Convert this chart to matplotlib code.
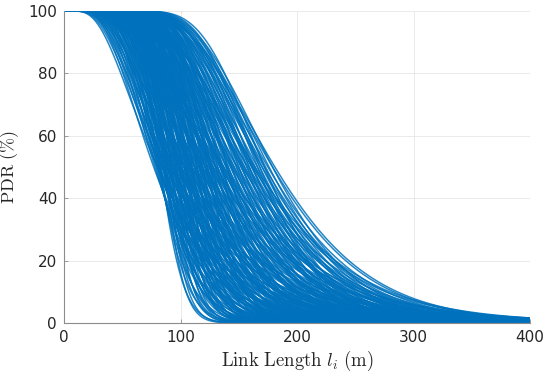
import math
import numpy as np
import matplotlib
matplotlib.use('Agg')
import matplotlib.pyplot as plt

# each curve: PDR(l) = 100 * Phi(k * ln(l50 / l))
# l50 = link length at 50 % PDR, grouped by slope k
slopes = [1.7, 2.0, 2.4, 2.8, 3.2, 3.8, 4.5, 5.5, 6.5]
l50_k17 = [80, 84, 88, 93, 98, 103]
l50_k20 = [77, 80, 82, 85, 88, 92, 94, 97, 101, 103, 106, 110, 112, 115, 119,
           121, 124, 128, 130, 134, 137]
l50_k24 = [78, 81, 84, 86, 90, 92, 95, 99, 101, 104, 108, 110, 113, 117, 119,
           122, 126, 128, 131, 135, 137, 140, 144, 146, 149, 153, 155, 158,
           162, 164]
l50_k28 = [79, 82, 85, 89, 91, 94, 98, 100, 103, 107, 109, 112, 116, 118, 121,
           125, 127, 130, 134, 136, 139, 143, 145, 148, 152, 154, 157, 161,
           163, 166, 170, 172, 175, 179, 181]
l50_k32 = [80, 83, 87, 89, 92, 96, 98, 101, 105, 107, 110, 114, 116, 119, 123,
           125, 128, 132, 134, 137, 141, 143, 146, 150, 152, 155, 159, 161,
           164, 168, 170, 173, 176, 179]
l50_k38 = [81, 85, 87, 90, 94, 96, 99, 103, 105, 108, 112, 114, 117, 121, 123,
           126, 130, 132, 135, 139, 141, 144, 148, 150, 153, 157, 159, 162,
           166, 168, 172]
l50_k45 = [82, 85, 89, 91, 94, 98, 100, 103, 107, 109, 112, 116, 118, 121,
           125, 127, 130, 134, 136, 140]
l50_k55 = [83, 87, 89, 92, 96, 98, 101, 105, 107, 110, 114, 116, 119, 123, 125]
l50_k65 = [86, 88, 92, 95, 97, 101, 104, 106, 110, 114]

l50_groups = [l50_k17, l50_k20, l50_k24, l50_k28, l50_k32, l50_k38,
              l50_k45, l50_k55, l50_k65]

xticks = [0, 100, 200, 300, 400]
yticks = [0, 20, 40, 60, 80, 100]

link_len = np.linspace(0, 400, 801)
safe_len = np.maximum(link_len, 1e-6)

plt.rcParams['mathtext.fontset'] = 'cm'
fig = plt.figure(figsize=(5.5, 3.74), dpi=100)
ax = fig.add_axes([64/550, 1-323/374, 466/550, 312/374])

blue = '#0072BD'
for k, group in zip(slopes, l50_groups):
    for l50 in group:
        z = k * np.log(l50 / safe_len)
        pdr = np.array([50 * (1 + math.erf(v / math.sqrt(2))) for v in z])
        ax.plot(link_len, pdr, color=blue, lw=1.1, alpha=0.85)

ax.set_xlim(0, 400)
ax.set_ylim(0, 100)
ax.set_xticks(xticks)
ax.set_yticks(yticks)
ax.grid(True, color='#e6e6e6', lw=0.6)
ax.set_axisbelow(True)
for side in ['top', 'right']:
    ax.spines[side].set_visible(False)
for side in ['left', 'bottom']:
    ax.spines[side].set_color('#8c8c8c')
    ax.spines[side].set_linewidth(0.8)
ax.tick_params(direction='in', length=3, width=0.6, color='#8c8c8c',
               labelsize=11, labelcolor='#262626', pad=5)

ax.set_xlabel(r'$\mathrm{Link\ Length}\ l_i\ \mathrm{(m)}$', fontsize=13.5,
              color='#262626', labelpad=3)
ax.set_ylabel(r'$\mathrm{PDR\ (\%)}$', fontsize=13, color='#262626', labelpad=5)

fig.savefig('out.png', dpi=100)
